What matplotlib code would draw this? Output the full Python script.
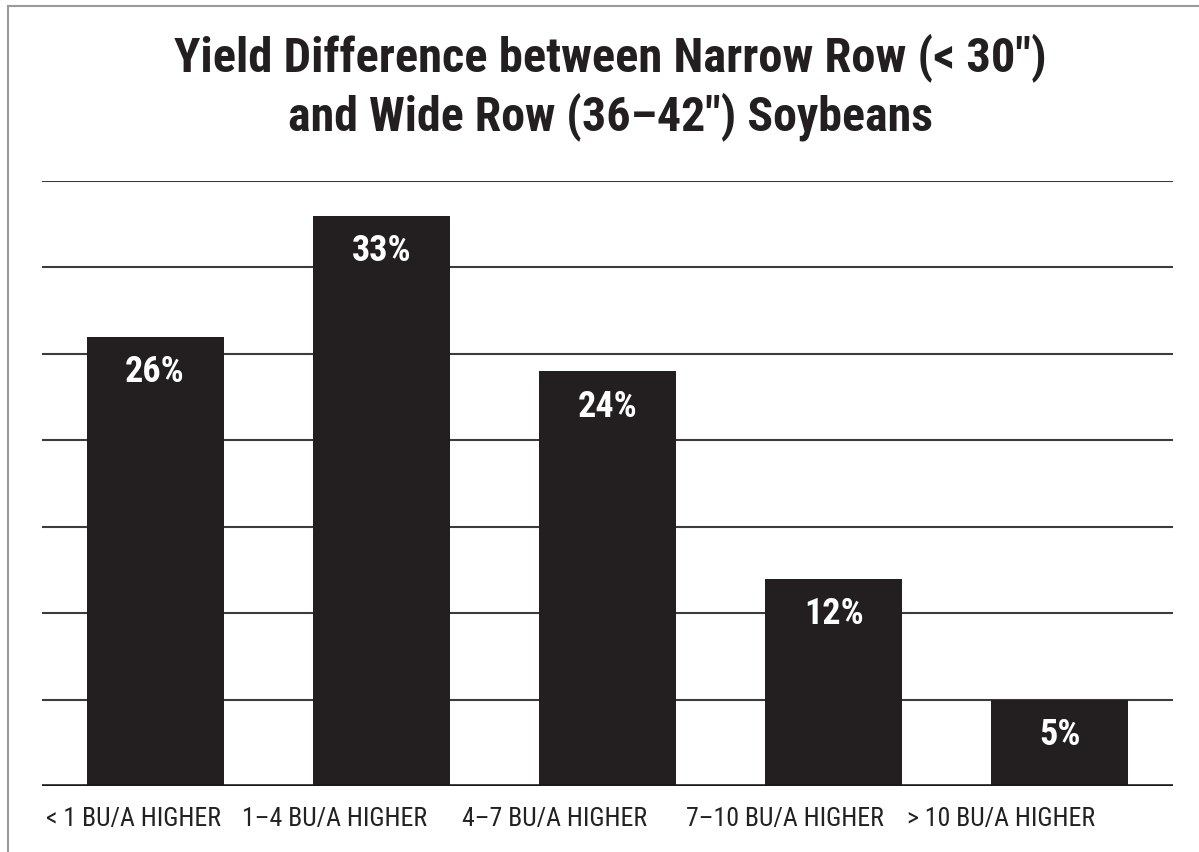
import matplotlib
matplotlib.use("Agg")
import matplotlib.pyplot as plt
from matplotlib.lines import Line2D

plt.rcParams['font.family'] = ['Roboto Condensed', 'DejaVu Sans']

categories = ["< 1 BU/A HIGHER", "1\u20134 BU/A HIGHER", "4\u20137 BU/A HIGHER",
              "7\u201310 BU/A HIGHER", "> 10 BU/A HIGHER"]
shares = [26, 33, 24, 12, 5]
value_labels = ["26%", "33%", "24%", "12%", "5%"]
grid_levels = [5, 10, 15, 20, 25, 30, 35]

W, H = 1199, 852
fig = plt.figure(figsize=(W / 100, H / 100), dpi=100)
fig.patch.set_facecolor("white")

ax = fig.add_axes([42 / W, 1 - 786 / H, (1173 - 42) / W, (786 - 181) / H])
ax.set_xlim(-0.5, len(categories) - 0.5)
ax.set_ylim(0, 35)

bar_color = "#231f20"
x = list(range(len(categories)))
bars = ax.bar(x, shares, width=0.605, color=bar_color, zorder=3)

for gy in grid_levels:
    ax.axhline(gy, color="#3c3c3c", lw=1.5, zorder=1)
ax.axhline(0, color="#1a1a1a", lw=2.6, zorder=4)

for rect, txt in zip(bars, value_labels):
    ax.annotate(txt, (rect.get_x() + rect.get_width() / 2, rect.get_height()),
                xytext=(0, -25.5), textcoords="offset points",
                ha="center", va="center", color="white",
                fontsize=26, fontweight="bold", zorder=5)

for s in ax.spines.values():
    s.set_visible(False)
ax.set_xticks([])
ax.set_yticks([])

# category captions sit as one run of text beneath the baseline
label_shift = [0.095, 0.205, 0.235, 0.215, 0.26]
for xi, lab, sh in zip(x, categories, label_shift):
    ax.annotate(lab, (xi - sh, 0), xytext=(0, -24), textcoords="offset points",
                ha="center", va="center", fontsize=18.5, color="#222222")

fig.text(610 / W, 1 - 58 / H, "Yield Difference between Narrow Row (< 30\")",
         ha="center", va="center", fontsize=35, fontweight="bold", color="#231f20")
fig.text(611 / W, 1 - 117 / H, "and Wide Row (36\u201342\") Soybeans",
         ha="center", va="center", fontsize=34.5, fontweight="bold", color="#231f20")

# page frame
fig.add_artist(Line2D([8 / W, 8 / W], [0, 1 - 6 / H], transform=fig.transFigure,
                      color="#9a9a9a", lw=1.5))
fig.add_artist(Line2D([8 / W, 1], [1 - 6 / H, 1 - 6 / H], transform=fig.transFigure,
                      color="#9a9a9a", lw=1.5))

fig.savefig("out.png", dpi=100, facecolor="white")
